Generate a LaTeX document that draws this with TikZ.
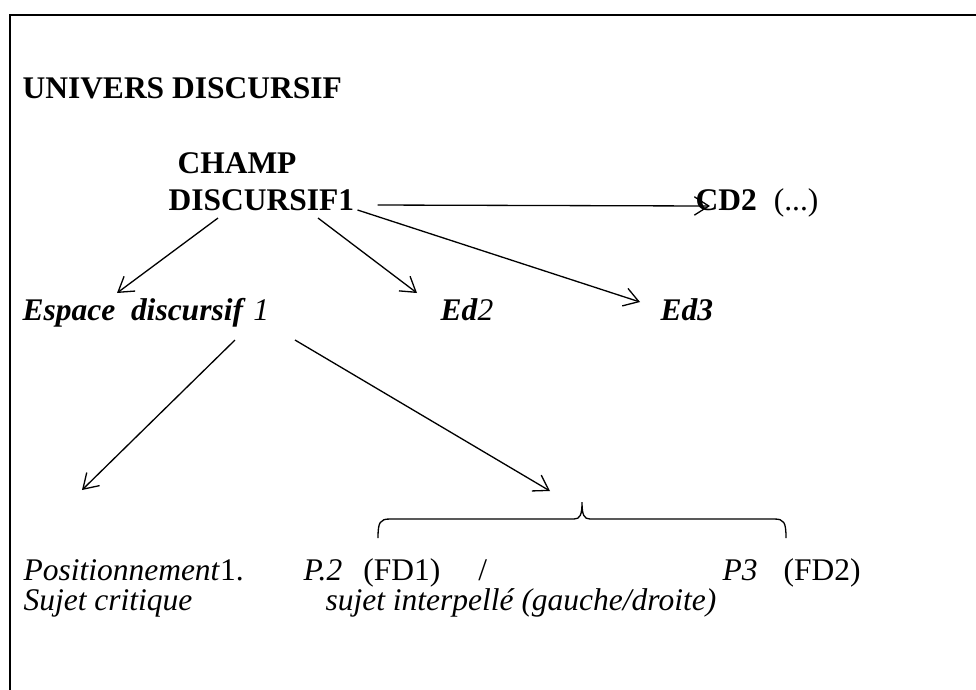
\documentclass[tikz,border=0pt]{standalone}
\usepackage{fontspec}
\setmainfont{Liberation Serif}
\usetikzlibrary{arrows.meta, calc}

\begin{document}
\begin{tikzpicture}[
    x=0.381pt, y=-0.381pt,
    txt/.style={anchor=base west, inner sep=0pt, font=\fontsize{12}{14.4}\selectfont},
    arrow/.style={-{Straight Barb[length=5.5pt, width=7pt]}, line width=0.5pt},
    frame/.style={line width=0.8pt}
]
    \useasboundingbox (0,0) rectangle (976,689);
    \draw[frame] (10,700) -- (10,15) -- (990,15);

    \node[txt] (univ) at (22,98) {\textbf{UNIVERS DISCURSIF}};
    \node[txt] (champA) at (177,173) {\textbf{CHAMP}};
    \node[txt] (champB) at (168,210) {\textbf{DISCURSIF1}};
    \node[txt] (cd2) at (695,210) {\textbf{CD2}\hspace{6.5pt}(...)};
    \node[txt] (esp1) at (22,320) {\textbf{\textit{Espace\ \ discursif}} \textit{1}};
    \node[txt] (ed2) at (440,320) {\textbf{\textit{Ed}}\textit{2}};
    \node[txt] (ed3) at (660,320) {\textbf{\textit{Ed3}}};
    \node[txt] (pos1) at (23,580) {\textit{Positionnement}1.};
    \node[txt] (pos2) at (303,580) {\textit{P.2}\hspace{8pt}(FD1)\hspace{14.5pt}/};
    \node[txt] (pos3) at (722,580) {\textit{P3}\hspace{9.9pt}(FD2)};
    \node[txt] (subj1) at (23,610) {\textit{Sujet critique}};
    \node[txt] (subj2) at (325,610) {\textit{sujet interpellé (gauche/droite)}};

    \coordinate (end1) at (82,490);
    \coordinate (end2) at (550,491);

    \draw[arrow] ($(champB.base west)+(50,8)$) -- ($(esp1.base west)+(95,-27)$);
    \draw[arrow] ($(champB.base west)+(150,8)$) -- ($(ed2.base west)+(-23,-27)$);
    \draw[arrow] ($(champB.base east)+(3,0)$) -- ($(ed3.base west)+(-20,-18)$);
    \draw[arrow] ($(champB.base east)+(23,-5)$) -- ($(cd2.base west)+(15,-4)$);
    \draw[arrow] ($(esp1.base west)+(213,20)$) -- (end1);
    \draw[arrow] ($(esp1.base west)+(273,20)$) -- (end2);

    \draw[line width=0.5pt] (378,538) .. controls (378,522) and (380,519) .. (390,519) -- (574,519)
        .. controls (580,519) and (582,515) .. (582,502) .. controls (582,515) and (584,519) .. (590,519)
        -- (774,519) .. controls (784,519) and (786,522) .. (786,538);
\end{tikzpicture}
\end{document}
